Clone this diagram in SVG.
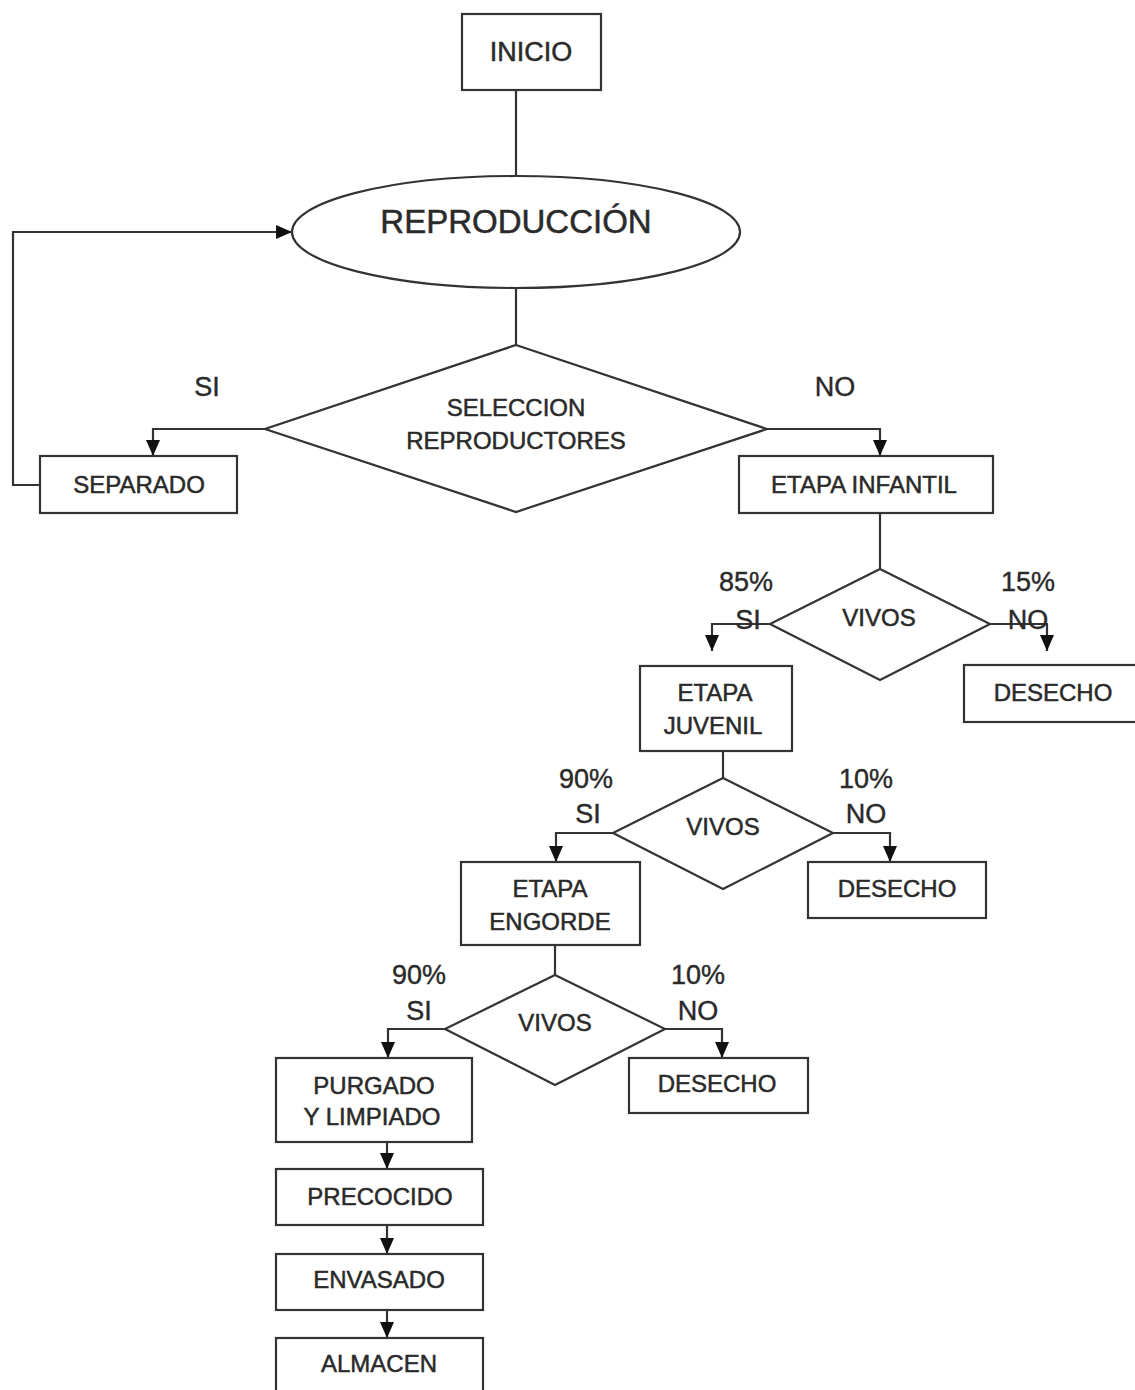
<svg xmlns="http://www.w3.org/2000/svg" width="1135" height="1390" viewBox="0 0 1135 1390">
<defs>
<style>
.box{fill:#fff;stroke:#333;stroke-width:2.2}
.con{fill:none;stroke:#333;stroke-width:2.2}
.t{font-family:"Liberation Sans",Arial,sans-serif;font-size:24px;fill:#2a2a2a;stroke:#2a2a2a;stroke-width:0.5;text-anchor:middle}
.lbl{font-family:"Liberation Sans",Arial,sans-serif;font-size:27px;fill:#2a2a2a;stroke:#2a2a2a;stroke-width:0.4;text-anchor:middle}
</style>
<marker id="ah" markerUnits="userSpaceOnUse" viewBox="0 0 16 14" refX="16" refY="7" markerWidth="16" markerHeight="14" orient="auto">
<path d="M0,0 L16,7 L0,14 z" fill="#111"/>
</marker>
</defs>
<rect width="1135" height="1390" fill="#fff"/>

<g id="connectors">
<path class="con" d="M516,90 V176"/>
<path class="con" d="M516,288 V345"/>
<path class="con" d="M265,429 H153 V456" marker-end="url(#ah)"/>
<path class="con" d="M767,429 H880 V456" marker-end="url(#ah)"/>
<path class="con" d="M40,485 H13 V232 H292" marker-end="url(#ah)"/>
<path class="con" d="M880,513 V569"/>
<path class="con" d="M770,624 H712 V651" marker-end="url(#ah)"/>
<path class="con" d="M990,624 H1047 V651" marker-end="url(#ah)"/>
<path class="con" d="M723,751 V778"/>
<path class="con" d="M613,833 H556 V862" marker-end="url(#ah)"/>
<path class="con" d="M833,833 H890 V862" marker-end="url(#ah)"/>
<path class="con" d="M555,945 V975"/>
<path class="con" d="M445,1029 H388 V1058" marker-end="url(#ah)"/>
<path class="con" d="M665,1029 H722 V1058" marker-end="url(#ah)"/>
<path class="con" d="M387,1142 V1169" marker-end="url(#ah)"/>
<path class="con" d="M387,1225 V1254" marker-end="url(#ah)"/>
<path class="con" d="M387,1310 V1338" marker-end="url(#ah)"/>
</g>

<g id="labels">
<text class="lbl" x="207" y="396">SI</text>
<text class="lbl" x="835" y="396">NO</text>
<text class="lbl" x="746" y="591">85%</text>
<text class="lbl" x="748" y="629">SI</text>
<text class="lbl" x="1028" y="591">15%</text>
<text class="lbl" x="1028" y="629">NO</text>
<text class="lbl" x="586" y="788">90%</text>
<text class="lbl" x="588" y="823">SI</text>
<text class="lbl" x="866" y="788">10%</text>
<text class="lbl" x="866" y="823">NO</text>
<text class="lbl" x="419" y="984">90%</text>
<text class="lbl" x="419" y="1020">SI</text>
<text class="lbl" x="698" y="984">10%</text>
<text class="lbl" x="698" y="1020">NO</text>
</g>

<g id="inicio">
<rect class="box" x="462" y="14" width="139" height="76"/>
<text class="t" x="531" y="61" style="font-size:27px">INICIO</text>
</g>
<g id="reproduccion">
<ellipse class="box" cx="516" cy="232" rx="224" ry="56"/>
<text class="t" x="516" y="233" style="font-size:33px">REPRODUCCIÓN</text>
</g>
<g id="seleccion">
<polygon class="box" points="516,345 767,429 516,512 265,429"/>
<text class="t" x="516" y="416">SELECCION</text>
<text class="t" x="516" y="449">REPRODUCTORES</text>
</g>
<g id="separado">
<rect class="box" x="40" y="456" width="197" height="57"/>
<text class="t" x="139" y="493">SEPARADO</text>
</g>
<g id="etapa-infantil">
<rect class="box" x="739" y="456" width="254" height="57"/>
<text class="t" x="864" y="493">ETAPA INFANTIL</text>
</g>
<g id="vivos1">
<polygon class="box" points="880,569 990,624 880,680 770,624"/>
<text class="t" x="879" y="626">VIVOS</text>
</g>
<g id="etapa-juvenil">
<rect class="box" x="640" y="666" width="152" height="85"/>
<text class="t" x="715" y="701">ETAPA</text>
<text class="t" x="713" y="734">JUVENIL</text>
</g>
<g id="desecho1">
<rect class="box" x="964" y="665" width="180" height="57"/>
<text class="t" x="1053" y="701">DESECHO</text>
</g>
<g id="vivos2">
<polygon class="box" points="723,778 833,833 723,889 613,833"/>
<text class="t" x="723" y="835">VIVOS</text>
</g>
<g id="etapa-engorde">
<rect class="box" x="461" y="862" width="179" height="83"/>
<text class="t" x="550" y="897">ETAPA</text>
<text class="t" x="550" y="930">ENGORDE</text>
</g>
<g id="desecho2">
<rect class="box" x="808" y="862" width="178" height="56"/>
<text class="t" x="897" y="897">DESECHO</text>
</g>
<g id="vivos3">
<polygon class="box" points="555,975 665,1029 555,1085 445,1029"/>
<text class="t" x="555" y="1031">VIVOS</text>
</g>
<g id="purgado">
<rect class="box" x="276" y="1058" width="196" height="84"/>
<text class="t" x="374" y="1094">PURGADO</text>
<text class="t" x="372" y="1125">Y LIMPIADO</text>
</g>
<g id="desecho3">
<rect class="box" x="629" y="1058" width="179" height="55"/>
<text class="t" x="717" y="1092">DESECHO</text>
</g>
<g id="precocido">
<rect class="box" x="276" y="1169" width="207" height="56"/>
<text class="t" x="380" y="1205">PRECOCIDO</text>
</g>
<g id="envasado">
<rect class="box" x="276" y="1254" width="207" height="56"/>
<text class="t" x="379" y="1288">ENVASADO</text>
</g>
<g id="almacen">
<rect class="box" x="276" y="1338" width="207" height="56"/>
<text class="t" x="379" y="1372">ALMACEN</text>
</g>
</svg>
